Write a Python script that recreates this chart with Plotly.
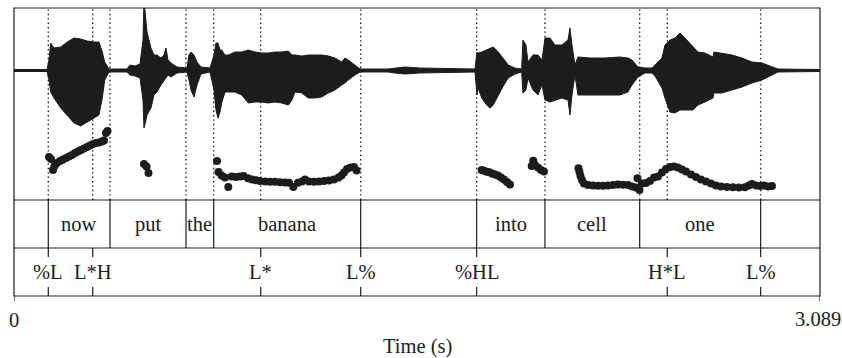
import plotly.graph_objects as go

# ---------------- data ----------------
T_END = 3.089

# waveform envelope (time s, upper amplitude, lower amplitude)
wave_t = [0.0, 0.1265, 0.1341, 0.1406, 0.1533, 0.1790, 0.2043, 0.2299, 0.2556, 0.2809, 0.3066, 0.3257,
          0.3384, 0.3476, 0.3641, 0.4330, 0.4445, 0.4637, 0.4829, 0.4944, 0.4982, 0.5059, 0.5097, 0.5250,
          0.5365, 0.5480, 0.5633, 0.5748, 0.5825, 0.5902, 0.6017, 0.6247, 0.6630, 0.6707, 0.6783, 0.6898,
          0.7013, 0.7166, 0.7511, 0.7665, 0.7741, 0.7818, 0.7894, 0.7960, 0.8086, 0.8213, 0.8469, 0.8726,
          0.8979, 0.9236, 0.9493, 0.9746, 1.0002, 1.0259, 1.0512, 1.0654, 1.0769, 1.1025, 1.1279, 1.1535,
          1.1792, 1.2045, 1.2302, 1.2558, 1.2685, 1.2811, 1.3068, 1.3260, 1.4333, 1.4601, 1.4984, 1.5559,
          1.7667, 1.7744, 1.7794, 1.7924, 1.8115, 1.8242, 1.8368, 1.8560, 1.8751, 1.8943, 1.9200, 1.9456,
          1.9506, 1.9621, 1.9698, 1.9890, 2.0081, 2.0235, 2.0350, 2.0541, 2.0733, 2.1001, 2.1231, 2.1308,
          2.1384, 2.1499, 2.1614, 2.2074, 2.2649, 2.3224, 2.3530, 2.3684, 2.3914, 2.4182, 2.4450, 2.4565,
          2.4833, 2.4948, 2.5140, 2.5331, 2.5523, 2.5715, 2.6021, 2.6213, 2.6481, 2.6788, 2.6826, 2.7133,
          2.7516, 2.7899, 2.8282, 2.8666, 2.9049, 2.9279, 3.0888]
wave_upper = [0.01, 0.01, 0.105, 0.275, 0.225, 0.235, 0.285, 0.325, 0.315, 0.295, 0.285, 0.285,
              0.185, 0.085, 0.015, 0.015, 0.055, 0.045, 0.065, 0.305, 0.705, 0.505, 0.385, 0.225,
              0.155, 0.155, 0.125, 0.155, 0.225, 0.105, 0.075, 0.035, 0.025, 0.155, 0.185, 0.155,
              0.085, 0.035, 0.025, 0.155, 0.275, 0.275, 0.205, 0.205, 0.155, 0.155, 0.185, 0.185,
              0.205, 0.185, 0.175, 0.175, 0.185, 0.185, 0.195, 0.155, 0.155, 0.145, 0.155, 0.155,
              0.155, 0.145, 0.125, 0.085, 0.125, 0.105, 0.055, 0.015, 0.015, 0.025, 0.035, 0.025,
              0.015, 0.185, 0.175, 0.185, 0.205, 0.215, 0.235, 0.185, 0.125, 0.055, 0.025, 0.015,
              0.305, 0.255, 0.085, 0.155, 0.155, 0.105, 0.325, 0.325, 0.255, 0.255, 0.305, 0.425,
              0.255, 0.055, 0.135, 0.125, 0.125, 0.135, 0.125, 0.105, 0.035, 0.025, 0.025, 0.055,
              0.125, 0.255, 0.305, 0.325, 0.375, 0.325, 0.235, 0.185, 0.175, 0.135, 0.185, 0.175,
              0.155, 0.125, 0.085, 0.075, 0.035, 0.015, 0.01]
wave_lower = [-0.01, -0.01, -0.095, -0.215, -0.275, -0.375, -0.445, -0.525, -0.555, -0.515, -0.475, -0.445,
              -0.275, -0.095, -0.015, -0.015, -0.045, -0.055, -0.075, -0.295, -0.575, -0.495, -0.445, -0.375,
              -0.245, -0.215, -0.145, -0.095, -0.075, -0.045, -0.065, -0.025, -0.015, -0.095, -0.195, -0.265,
              -0.145, -0.035, -0.015, -0.195, -0.395, -0.475, -0.415, -0.325, -0.215, -0.215, -0.215, -0.245,
              -0.325, -0.315, -0.315, -0.325, -0.315, -0.325, -0.345, -0.295, -0.215, -0.225, -0.275, -0.275,
              -0.265, -0.225, -0.195, -0.145, -0.125, -0.095, -0.045, -0.015, -0.015, -0.025, -0.035, -0.025,
              -0.015, -0.245, -0.175, -0.275, -0.345, -0.375, -0.345, -0.245, -0.155, -0.075, -0.035, -0.015,
              -0.225, -0.195, -0.075, -0.195, -0.245, -0.145, -0.295, -0.315, -0.295, -0.275, -0.295, -0.445,
              -0.245, -0.045, -0.245, -0.245, -0.245, -0.245, -0.215, -0.145, -0.065, -0.025, -0.025, -0.055,
              -0.175, -0.275, -0.415, -0.425, -0.395, -0.395, -0.395, -0.345, -0.315, -0.275, -0.225, -0.225,
              -0.195, -0.165, -0.125, -0.095, -0.045, -0.015, -0.01]

# pitch track (time s, F0 Hz)
pitch_t = [0.1341, 0.1418, 0.1495, 0.1552, 0.1648, 0.1763, 0.1878, 0.1993, 0.2108, 0.2223, 0.2338, 0.2453,
           0.2568, 0.2683, 0.2798, 0.2913, 0.3028, 0.3142, 0.3257, 0.3372, 0.3449, 0.3526, 0.3583,
           0.4982, 0.5078, 0.5154,
           0.7780, 0.7837, 0.7952, 0.8086, 0.8213, 0.8343, 0.8508, 0.8661, 0.8795, 0.8968, 0.9121, 0.9274,
           0.9427, 0.9619, 0.9811, 1.0002, 1.0194, 1.0386, 1.0539, 1.0704, 1.0884, 1.1037, 1.1152, 1.1305,
           1.1497, 1.1689, 1.1880, 1.2072, 1.2263, 1.2436, 1.2551, 1.2647, 1.2762, 1.2896, 1.3030, 1.3126,
           1.7924, 1.8012, 1.8115, 1.8223, 1.8318, 1.8433, 1.8548, 1.8663, 1.8778, 1.8893, 1.9008,
           1.9840, 1.9901, 1.9966, 2.0081, 2.0196, 2.0311,
           2.1633, 2.1672, 2.1710, 2.1767, 2.1844, 2.1998, 2.2189, 2.2381, 2.2572, 2.2764, 2.2955, 2.3147,
           2.3339, 2.3530, 2.3684, 2.3837, 2.3894, 2.3971, 2.4067, 2.4220, 2.4373, 2.4527, 2.4680, 2.4833,
           2.4987, 2.5140, 2.5293, 2.5446, 2.5600, 2.5753, 2.5944, 2.6136, 2.6327, 2.6519, 2.6711, 2.6902,
           2.7094, 2.7324, 2.7554, 2.7784, 2.8014, 2.8167, 2.8282, 2.8436, 2.8589, 2.8742, 2.8896, 2.9049]
pitch_hz = [137.2, 134.1, 116.9, 123.1, 127.8, 130.9, 133.3, 135.6, 138.0, 140.3, 143.4, 145.8,
            148.1, 150.5, 152.8, 155.2, 157.5, 159.1, 159.8, 161.4, 163.0, 174.7, 177.8,
            126.3, 122.3, 112.2,
            130.9, 113.8, 108.3, 105.2, 90.3, 106.7, 105.9, 106.7, 107.5, 103.9, 102.0, 100.9,
            99.7, 98.9, 98.6, 98.4, 97.8, 97.3, 97.0, 90.3, 97.0, 98.9, 102.0, 98.9,
            98.6, 98.9, 99.7, 100.5, 102.0, 105.2, 108.3, 113.0, 118.4, 120.8, 121.6, 116.1,
            116.9, 115.6, 114.2, 113.3, 111.4, 109.8, 108.3, 105.2, 102.0, 98.1, 94.2,
            123.1, 131.4, 124.7, 120.8, 116.9, 114.5,
            119.5, 113.8, 107.5, 101.3, 95.8, 93.4, 92.7, 92.3, 92.3, 92.7, 93.4, 94.2,
            93.9, 93.4, 91.1, 89.5, 103.9, 85.6, 95.8, 96.6, 99.7, 105.2, 106.7, 113.0,
            118.4, 121.6, 122.3, 120.8, 117.7, 114.5, 109.8, 105.9, 102.0, 98.9, 95.8, 92.7,
            91.1, 90.3, 89.8, 89.5, 89.8, 92.7, 95.0, 92.7, 91.9, 92.7, 91.1, 91.9]

# word tier (interval boundaries and labels)
word_bounds = [0.0, 0.1314, 0.3679, 0.6592, 0.7653, 1.3287, 1.7732, 2.0349, 2.3979, 2.8616, T_END]
word_labels = ["", "now", "put", "the", "banana", "", "into", "cell", "one", ""]

# tone tier (points and labels)
tone_times = [0.1314, 0.3016, 0.9454, 1.3287, 1.7732, 2.5037, 2.8616]
tone_labels = ["%L", "L*H", "L*", "L%", "%HL", "H*L", "L%"]

# ---------------- figure ----------------
FONT = "Liberation Serif, Times New Roman, serif"
INK = "#1c1c1c"
H_PX = 288.0
WORD_BOT, WORD_TOP = 48 / H_PX, 96 / H_PX
FS = 20.5

fig = go.Figure()

# waveform envelope (filled)
fig.add_trace(go.Scatter(
    x=wave_t + wave_t[::-1], y=wave_upper + wave_lower[::-1],
    xaxis="x", yaxis="y2", mode="lines", fill="toself",
    fillcolor=INK, line=dict(color=INK, width=1), hoverinfo="skip", showlegend=False))

# pitch dots
fig.add_trace(go.Scatter(
    x=pitch_t, y=pitch_hz, xaxis="x", yaxis="y", mode="markers",
    marker=dict(color=INK, size=8, line=dict(width=0)), showlegend=False))

shapes = []
dotted = sorted(set([round(b, 4) for b in word_bounds[1:-1]] + [round(t, 4) for t in tone_times]))
for t in dotted:
    shapes.append(dict(type="line", xref="x", yref="paper", x0=t, x1=t, y0=WORD_TOP, y1=1,
                       line=dict(color=INK, width=1.4, dash="1.4px,3px"), layer="above"))
for b in word_bounds[1:-1]:
    shapes.append(dict(type="line", xref="x", yref="paper", x0=b, x1=b, y0=WORD_BOT, y1=WORD_TOP,
                       line=dict(color=INK, width=1.2)))
tick = 9 / H_PX
for t in tone_times:
    shapes.append(dict(type="line", xref="x", yref="paper", x0=t, x1=t, y0=WORD_BOT - tick, y1=WORD_BOT,
                       line=dict(color=INK, width=1.2)))
    shapes.append(dict(type="line", xref="x", yref="paper", x0=t, x1=t, y0=0, y1=tick,
                       line=dict(color=INK, width=1.2)))
for yy in (WORD_BOT, WORD_TOP):
    shapes.append(dict(type="line", xref="paper", yref="paper", x0=0, x1=1, y0=yy, y1=yy,
                       line=dict(color=INK, width=1.2)))
shapes.append(dict(type="rect", xref="paper", yref="paper", x0=0, x1=1, y0=0, y1=1,
                   line=dict(color=INK, width=1.2)))
for t in (0.0, T_END):
    shapes.append(dict(type="line", xref="x", yref="paper", x0=t, x1=t, y0=0, y1=-5 / H_PX,
                       line=dict(color=INK, width=1.2)))

def label(x, y, text, **kw):
    return dict(x=x, y=y, xref="x", yref="paper", text=text, showarrow=False,
                xanchor="center", yanchor="middle",
                font=dict(family=FONT, size=FS, color=INK), **kw)

ann = []
for i, lab in enumerate(word_labels):
    if lab:
        ann.append(label((word_bounds[i] + word_bounds[i + 1]) / 2, (WORD_BOT + WORD_TOP) / 2, lab))
for t, lab in zip(tone_times, tone_labels):
    ann.append(label(t, WORD_BOT / 2, lab))
ann.append(label(0, -24 / H_PX, "0"))
ann.append(label(T_END, -23 / H_PX, f"{T_END:.3f}", xshift=-2))
ann.append(label(T_END / 2, -50 / H_PX, "Time (s)"))

hidden = dict(showgrid=False, zeroline=False, showticklabels=False, ticks="", showline=False)
fig.update_layout(
    width=842, height=358,
    margin=dict(l=14, r=22, t=8, b=62, autoexpand=False),
    paper_bgcolor="white", plot_bgcolor="rgba(0,0,0,0)",
    xaxis=dict(range=[0, T_END], domain=[0, 1], anchor="y", **hidden),
    yaxis=dict(range=[70, 370], domain=[WORD_TOP, 1], anchor="x", **hidden),
    yaxis2=dict(range=[-0.625, 0.625], domain=[1 - 125 / H_PX, 1], anchor="x", **hidden),
    shapes=shapes, annotations=ann, showlegend=False,
)

fig.write_html("out.html", config={"displayModeBar": False, "staticPlot": True},
               post_script="document.body.style.margin='0';document.body.style.overflow='hidden';")
